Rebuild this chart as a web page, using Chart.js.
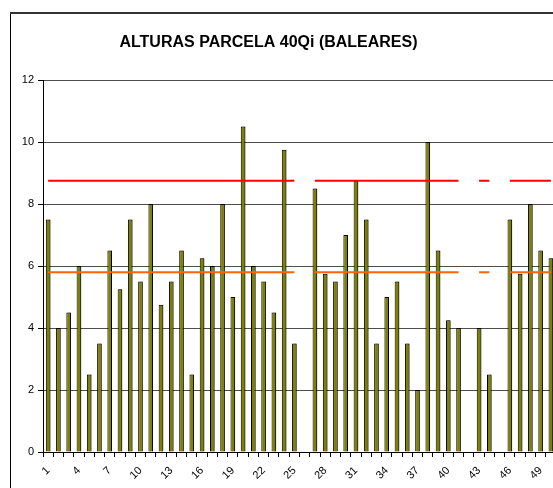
<!DOCTYPE html>
<html>
<head>
<meta charset="utf-8">
<script src="https://cdn.jsdelivr.net/npm/chart.js@4/dist/chart.umd.min.js"></script>
<style>
html,body{margin:0;padding:0;overflow:hidden;background:#fff;width:553px;height:488px;}
canvas{display:block;}
</style>
</head>
<body>
<canvas id="c" width="560" height="488"></canvas>
<script>
const TITLE = 'ALTURAS PARCELA 40Qi (BALEARES)';

const categories = ['1','2','3','4','5','6','7','8','9','10',
  '11','12','13','14','15','16','17','18','19','20',
  '21','22','23','24','25','26','27','28','29','30',
  '31','32','33','34','35','36','37','38','39','40',
  '41','42','43','44','45','46','47','48','49','50'];

const alturas = [7.5, 4, 4.5, 6, 2.5, 3.5, 6.5, 5.25, 7.5, 5.5,
  8, 4.75, 5.5, 6.5, 2.5, 6.25, 6, 8, 5, 10.5,
  6, 5.5, 4.5, 9.75, 3.5, null, 8.5, 5.75, 5.5, 7,
  8.75, 7.5, 3.5, 5, 5.5, 3.5, 2, 10, 6.5, 4.25,
  4, null, 4, 2.5, null, 7.5, 5.75, 8, 6.5, 6.25];

const lineaRoja = [8.75, 8.75, 8.75, 8.75, 8.75, 8.75, 8.75, 8.75, 8.75, 8.75,
  8.75, 8.75, 8.75, 8.75, 8.75, 8.75, 8.75, 8.75, 8.75, 8.75,
  8.75, 8.75, 8.75, 8.75, 8.75, null, 8.75, 8.75, 8.75, 8.75,
  8.75, 8.75, 8.75, 8.75, 8.75, 8.75, 8.75, 8.75, 8.75, 8.75,
  8.75, null, 8.75, 8.75, null, 8.75, 8.75, 8.75, 8.75, 8.75];

const lineaNaranja = [5.8, 5.8, 5.8, 5.8, 5.8, 5.8, 5.8, 5.8, 5.8, 5.8,
  5.8, 5.8, 5.8, 5.8, 5.8, 5.8, 5.8, 5.8, 5.8, 5.8,
  5.8, 5.8, 5.8, 5.8, 5.8, null, 5.8, 5.8, 5.8, 5.8,
  5.8, 5.8, 5.8, 5.8, 5.8, 5.8, 5.8, 5.8, 5.8, 5.8,
  5.8, null, 5.8, 5.8, null, 5.8, 5.8, 5.8, 5.8, 5.8];

const yMin = 0, yMax = 12, yStep = 2;
const labelEvery = 3;

const FONT = '"Liberation Sans", Arial, sans-serif';

const framePlugin = {
  id: 'frame',
  beforeDraw(chart) {
    const ctx = chart.ctx;
    ctx.save();
    ctx.fillStyle = '#fff';
    ctx.fillRect(0, 0, chart.width, chart.height);
    ctx.strokeStyle = '#000';
    ctx.lineWidth = 1;
    ctx.beginPath();
    ctx.moveTo(10.5, 12);
    ctx.lineTo(10.5, chart.height);
    ctx.stroke();
    ctx.strokeStyle = '#333';
    ctx.lineWidth = 2;
    ctx.beginPath();
    ctx.moveTo(10, 13);
    ctx.lineTo(chart.width, 13);
    ctx.stroke();
    ctx.restore();
  },
  afterDraw(chart) {
    const ctx = chart.ctx;
    ctx.save();
    ctx.font = 'bold 16px ' + FONT;
    ctx.fillStyle = '#000';
    ctx.textAlign = 'center';
    ctx.textBaseline = 'middle';
    ctx.fillText(TITLE, 268.5, 43);
    ctx.restore();
  }
};

const shadowPlugin = {
  id: 'barShadow',
  beforeDatasetDraw(chart, args) {
    if (args.meta.type === 'bar') {
      const ctx = chart.ctx;
      ctx.save();
      ctx.shadowColor = 'rgba(0,0,0,0.35)';
      ctx.shadowOffsetX = 1.5;
      ctx.shadowOffsetY = 0;
      ctx.shadowBlur = 0;
    }
  },
  afterDatasetDraw(chart, args) {
    if (args.meta.type === 'bar') chart.ctx.restore();
  }
};

new Chart(document.getElementById('c'), {
  data: {
    labels: categories,
    datasets: [
      {
        type: 'line',
        data: lineaRoja,
        borderColor: '#ff0000',
        borderWidth: 2,
        pointRadius: 0,
        fill: false,
        spanGaps: false,
        order: 0
      },
      {
        type: 'line',
        data: lineaNaranja,
        borderColor: '#ff6600',
        borderWidth: 2,
        pointRadius: 0,
        fill: false,
        spanGaps: false,
        order: 0
      },
      {
        type: 'bar',
        data: alturas,
        backgroundColor: '#808000',
        borderColor: '#000',
        borderWidth: 1,
        barPercentage: 0.9,
        categoryPercentage: 0.5,
        order: 1
      }
    ]
  },
  options: {
    responsive: false,
    animation: false,
    devicePixelRatio: 1,
    layout: { padding: { top: 80, left: 0, right: 4, bottom: 0 } },
    plugins: {
      legend: { display: false },
      tooltip: { enabled: false },
      title: { display: false }
    },
    scales: {
      x: {
        type: 'category',
        offset: true,
        grid: {
          display: true,
          drawOnChartArea: false,
          drawTicks: true,
          tickLength: 5,
          tickColor: '#000',
          offset: true
        },
        border: { color: '#000', width: 1 },
        ticks: {
          autoSkip: false,
          minRotation: 45,
          maxRotation: 45,
          padding: 7,
          color: '#000',
          font: { family: FONT, size: 11 },
          callback: function (v, i) { return i % labelEvery === 0 ? categories[i] : ''; }
        },
        afterFit: function (s) { s.height = 36; s.paddingLeft = 0; s.paddingRight = 0; }
      },
      y: {
        min: yMin,
        max: yMax,
        grid: {
          color: '#4d4d4d',
          lineWidth: 1,
          drawTicks: true,
          tickLength: 5,
          tickColor: '#000'
        },
        border: { color: '#000', width: 1 },
        ticks: {
          stepSize: yStep,
          padding: 4,
          color: '#000',
          font: { family: FONT, size: 11 }
        },
        afterFit: function (s) { s.width = 43; }
      }
    }
  },
  plugins: [framePlugin, shadowPlugin]
});
</script>
</body>
</html>
